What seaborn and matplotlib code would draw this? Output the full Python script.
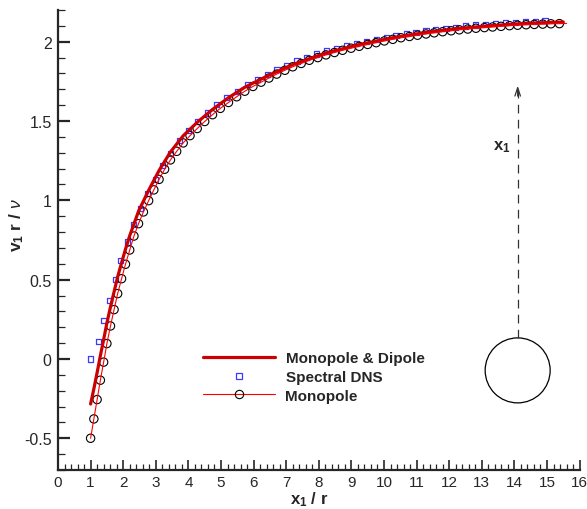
import numpy as np
import pandas as pd
import seaborn as sns
import matplotlib
matplotlib.use("Agg")
import matplotlib.pyplot as plt
from matplotlib.lines import Line2D
from matplotlib.patches import Ellipse
from matplotlib.ticker import MultipleLocator

# ---------------- data ----------------
mono_x = [1.00, 1.10, 1.20, 1.30, 1.40, 1.50, 1.61, 1.72, 1.83, 1.95, 2.07, 2.20,
          2.33, 2.47, 2.62, 2.78, 2.94, 3.10, 3.27, 3.45, 3.64, 3.84, 4.05, 4.27,
          4.50, 4.74, 4.98, 5.23, 5.48, 5.73, 5.98, 6.23, 6.47, 6.71, 6.96, 7.20,
          7.46, 7.71, 7.97, 8.22, 8.48, 8.73, 8.99, 9.24, 9.50, 9.76, 10.01, 10.27,
          10.52, 10.78, 11.03, 11.29, 11.54, 11.80, 12.06, 12.31, 12.57, 12.82,
          13.08, 13.33, 13.59, 13.85, 14.10, 14.36, 14.61, 14.87, 15.12, 15.38]
mono_y = [-0.500, -0.378, -0.256, -0.134, -0.020, 0.097, 0.208, 0.311, 0.412, 0.506,
          0.597, 0.687, 0.775, 0.853, 0.927, 0.998, 1.066, 1.132, 1.196, 1.255,
          1.309, 1.362, 1.408, 1.453, 1.497, 1.540, 1.580, 1.617, 1.653, 1.688,
          1.718, 1.745, 1.771, 1.796, 1.820, 1.842, 1.863, 1.883, 1.900, 1.917,
          1.932, 1.946, 1.959, 1.971, 1.983, 1.994, 2.005, 2.015, 2.025, 2.033,
          2.041, 2.049, 2.056, 2.063, 2.069, 2.075, 2.080, 2.085, 2.089, 2.093,
          2.097, 2.101, 2.104, 2.107, 2.109, 2.111, 2.113, 2.114]
mono_line_end = (15.60, 2.115)

dip_x = [1.00, 1.10, 1.20, 1.30, 1.40, 1.50, 1.61, 1.72, 1.83, 1.95, 2.07, 2.20,
         2.47, 2.78, 3.10, 3.45, 3.84, 4.27, 4.74, 5.23, 5.73, 6.47, 7.20, 8.22,
         9.24, 10.27, 11.29, 12.31, 13.33, 14.36, 15.50]
dip_y = [-0.284, -0.188, -0.086, 0.021, 0.122, 0.227, 0.328, 0.423, 0.518, 0.606,
         0.692, 0.777, 0.931, 1.063, 1.188, 1.305, 1.407, 1.492, 1.573, 1.647,
         1.713, 1.789, 1.856, 1.929, 1.982, 2.025, 2.059, 2.084, 2.102, 2.116, 2.124]

dns_x = [1.00, 1.24, 1.41, 1.57, 1.76, 1.92, 2.12, 2.32, 2.52, 2.74, 2.98, 3.21,
         3.46, 3.72, 4.00, 4.27, 4.58, 4.87, 5.17, 5.51, 5.81, 6.11, 6.42, 6.72,
         7.02, 7.33, 7.63, 7.94, 8.24, 8.55, 8.85, 9.16, 9.46, 9.77, 10.07, 10.37,
         10.68, 10.98, 11.29, 11.59, 11.90, 12.20, 12.51, 12.81, 13.12, 13.42,
         13.72, 14.03, 14.33, 14.64, 14.94]
dns_y = [0.000, 0.109, 0.240, 0.370, 0.500, 0.620, 0.738, 0.849, 0.950, 1.045,
         1.129, 1.219, 1.297, 1.375, 1.438, 1.497, 1.551, 1.603, 1.646, 1.688,
         1.728, 1.761, 1.794, 1.824, 1.851, 1.878, 1.902, 1.922, 1.942, 1.959,
         1.975, 1.989, 2.003, 2.016, 2.028, 2.040, 2.051, 2.060, 2.069, 2.077,
         2.085, 2.092, 2.099, 2.105, 2.110, 2.114, 2.119, 2.123, 2.127, 2.129, 2.132]

legend_labels = ["Monopole & Dipole", "Spectral DNS", "Monopole"]

# ---------------- style ----------------
sns.set_style("ticks")
plt.rcParams["font.family"] = ["Liberation Sans", "DejaVu Sans"]
plt.rcParams["mathtext.fontset"] = "custom"
plt.rcParams["mathtext.rm"] = "Liberation Sans"
plt.rcParams["mathtext.bf"] = "Liberation Sans:bold"
plt.rcParams["mathtext.it"] = "Liberation Sans:italic"

fig = plt.figure(figsize=(5.87, 5.10), dpi=100)
ax = fig.add_axes([58 / 587, 39 / 510, (579.6 - 58) / 587, (471 - 11) / 510])

df_mono = pd.DataFrame({"x": mono_x, "y": mono_y})
df_mono_line = pd.DataFrame({"x": mono_x + [mono_line_end[0]],
                             "y": mono_y + [mono_line_end[1]]})
df_dip = pd.DataFrame({"x": dip_x, "y": dip_y})
df_dns = pd.DataFrame({"x": dns_x, "y": dns_y})

sns.scatterplot(data=df_dns, x="x", y="y", ax=ax, marker="s", s=14,
                facecolor="none", edgecolor="#3a3aff", linewidth=0.9, zorder=3)
sns.scatterplot(data=df_mono, x="x", y="y", ax=ax, marker="o", s=36,
                facecolor="none", edgecolor="black", linewidth=0.8, zorder=4)
sns.lineplot(data=df_dip, x="x", y="y", ax=ax, color="#cc0000", linewidth=2.3,
             sort=False, estimator=None, zorder=5)
sns.lineplot(data=df_mono_line, x="x", y="y", ax=ax, color="#ff0000", linewidth=0.8,
             sort=False, estimator=None, zorder=6)

# cylinder sketch and x1 arrow
cyl = Ellipse((14.1, -0.072), width=65 / 32.6, height=65 / 158.6,
              facecolor="none", edgecolor="black", linewidth=0.9, zorder=2)
ax.add_patch(cyl)
ax.plot([14.1, 14.1], [0.135, 1.72], color="#333333", linewidth=0.9,
        dashes=(7, 5), zorder=2)
ax.annotate("", xy=(14.1, 1.74), xytext=(14.1, 1.64),
            arrowprops=dict(arrowstyle="->,head_length=0.6,head_width=0.2",
                            color="#333333", lw=0.9))
ax.text(13.62, 1.343, r"$\mathbf{x}_\mathbf{1}$", fontsize=12,
        ha="center", va="center")

# axes
ax.set_xlim(0, 16)
ax.set_ylim(-0.7, 2.2)
ax.xaxis.set_minor_locator(MultipleLocator(0.2))
ax.yaxis.set_minor_locator(MultipleLocator(0.1))
ax.set_yticks([-0.5, 0, 0.5, 1, 1.5, 2])
ax.set_yticklabels(["-0.5", "0", "0.5", "1", "1.5", "2"])
ax.set_xticks(range(0, 17))
ax.set_xticklabels([str(i) for i in range(0, 17)])

for side in ["top", "right"]:
    ax.spines[side].set_visible(False)
for side in ["left", "bottom"]:
    ax.spines[side].set_linewidth(1.6)

ax.tick_params(axis="y", which="major", direction="in", length=8.5, width=1.6,
               labelsize=11.5, pad=4.5)
ax.tick_params(axis="y", which="minor", direction="in", length=5, width=0.9)
ax.tick_params(axis="x", which="major", direction="in", length=7.5, width=1.2,
               labelsize=11, pad=3.5)
ax.tick_params(axis="x", which="minor", direction="in", length=4, width=0.9)

ax.set_xlabel(r"$\mathbf{x}_\mathbf{1}$ / r", fontsize=12, fontweight="bold")
ax.set_ylabel(r"$\mathbf{v}_\mathbf{1}$ r / $\nu$", fontsize=12.5, fontweight="bold")
ax.xaxis.set_label_coords(0.482, -0.043)
ax.yaxis.set_label_coords(-0.062, 0.535)

handles = [
    Line2D([], [], color="#cc0000", linewidth=2.3),
    Line2D([], [], color="none", marker="s", markersize=4.2,
           markerfacecolor="none", markeredgecolor="#3a3aff", markeredgewidth=0.9),
    Line2D([], [], color="#ff0000", linewidth=0.8, marker="o", markersize=6,
           markerfacecolor="none", markeredgecolor="black", markeredgewidth=0.8),
]
leg = ax.legend(handles, legend_labels, loc="upper left",
                bbox_to_anchor=((203 - 58) / 521.6, (471 - 352) / 460),
                frameon=False, fontsize=11, handlelength=4.7, handletextpad=0.7,
                labelspacing=0.32, borderpad=0, borderaxespad=0)
for t in leg.get_texts():
    t.set_fontweight("bold")

fig.savefig("out.png", dpi=100)
